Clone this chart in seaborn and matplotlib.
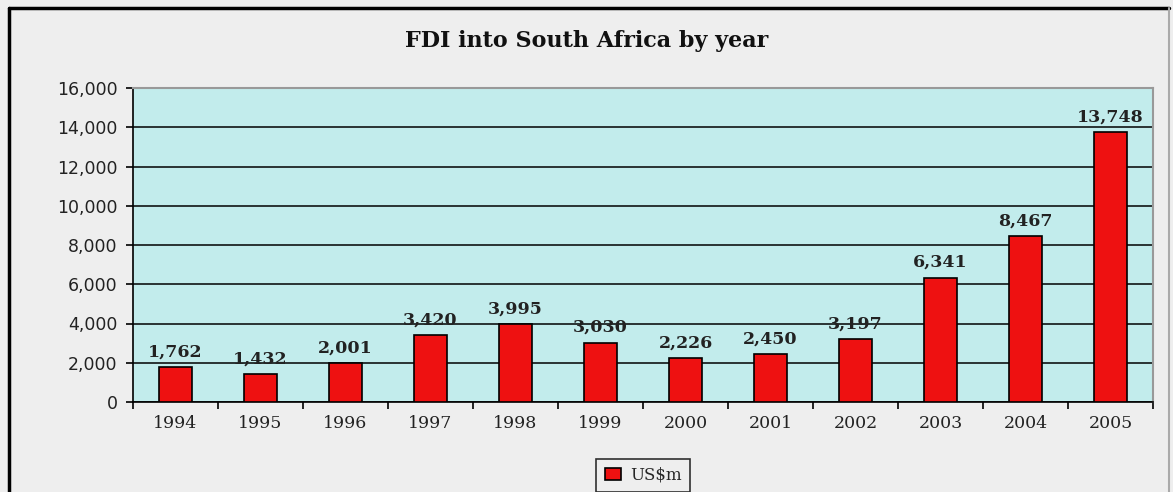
import seaborn as sns
import matplotlib.pyplot as plt, numpy as np
import pandas as pd
from matplotlib.lines import Line2D

years = ['1994', '1995', '1996', '1997', '1998', '1999', '2000', '2001', '2002', '2003', '2004', '2005']
fdi = [1762, 1432, 2001, 3420, 3995, 3030, 2226, 2450, 3197, 6341, 8467, 13748]
ytks = [0, 2000, 4000, 6000, 8000, 10000, 12000, 14000, 16000]

df = pd.DataFrame({'year': years, 'US$m': fdi})

sns.set_style('white')
plt.rcParams['font.family'] = ['DejaVu Serif']

fig = plt.figure(figsize=(11.73, 4.92), dpi=100, facecolor='#eeeeee')
ax = fig.add_axes([133/1173, 1-402/492, 1020/1173, 314/492])
ax.set_facecolor('#c2ecec')

sns.barplot(data=df, x='year', y='US$m', color='#ee1111', saturation=1,
            edgecolor='black', linewidth=1.2, width=0.39, ax=ax, label='US$m', zorder=3)

ax.set_ylim(0, 16000)
ax.set_xlim(-0.5, len(years)-0.5)
ax.set_yticks(ytks)
ax.set_yticklabels([f'{v:,}' for v in ytks], family='DejaVu Sans', fontsize=12.5, color='#222222')
ax.set_xticks(range(len(years)))
ax.set_xticklabels(years, fontsize=12.5, color='#222222')
ax.tick_params(axis='x', length=0, pad=9)
ax.tick_params(axis='y', length=5, width=1.2, color='black', left=True, pad=6)
ax.set_xticks(np.arange(-0.5, len(years)), minor=True)
ax.tick_params(axis='x', which='minor', length=5, width=1.2, bottom=True, color='black')
ax.set_xlabel('')
ax.set_ylabel('')
ax.yaxis.grid(True, color='black', lw=1.1, zorder=1)
ax.set_axisbelow(True)
for s in ['left', 'bottom']:
    ax.spines[s].set_color('black')
    ax.spines[s].set_linewidth(1.2)
for s in ['top', 'right']:
    ax.spines[s].set_color('#999999')
    ax.spines[s].set_linewidth(1.5)

for i, v in enumerate(fdi):
    ax.text(i, v + 330, f'{v:,}', ha='center', va='bottom', fontsize=12.5, weight='bold', color='#222222')

fig.text(587/1173, 1-41/492, 'FDI into South Africa by year', ha='center', va='center',
         fontsize=16, weight='bold', color='#111111')

leg = ax.legend(loc='upper center', bbox_to_anchor=(0.5, -0.18), frameon=True, fontsize=12,
                handlelength=1.0, handleheight=0.7, handletextpad=0.5, borderpad=0.5,
                borderaxespad=0, fancybox=False)
leg.get_frame().set_edgecolor('black')
leg.get_frame().set_linewidth(1.2)
leg.get_frame().set_facecolor('#eeeeee')

# outer frame: black on left/top, grey on right
fig.add_artist(Line2D([9/1173, 9/1173], [0, 1-8/492], transform=fig.transFigure, color='black', lw=2.5))
fig.add_artist(Line2D([9/1173, 1169/1173], [1-8/492, 1-8/492], transform=fig.transFigure, color='black', lw=2.5))
fig.add_artist(Line2D([1169/1173, 1169/1173], [0, 1-8/492], transform=fig.transFigure, color='#aaaaaa', lw=1.5))

plt.savefig('out.png', dpi=100, facecolor=fig.get_facecolor())
plt.close()
